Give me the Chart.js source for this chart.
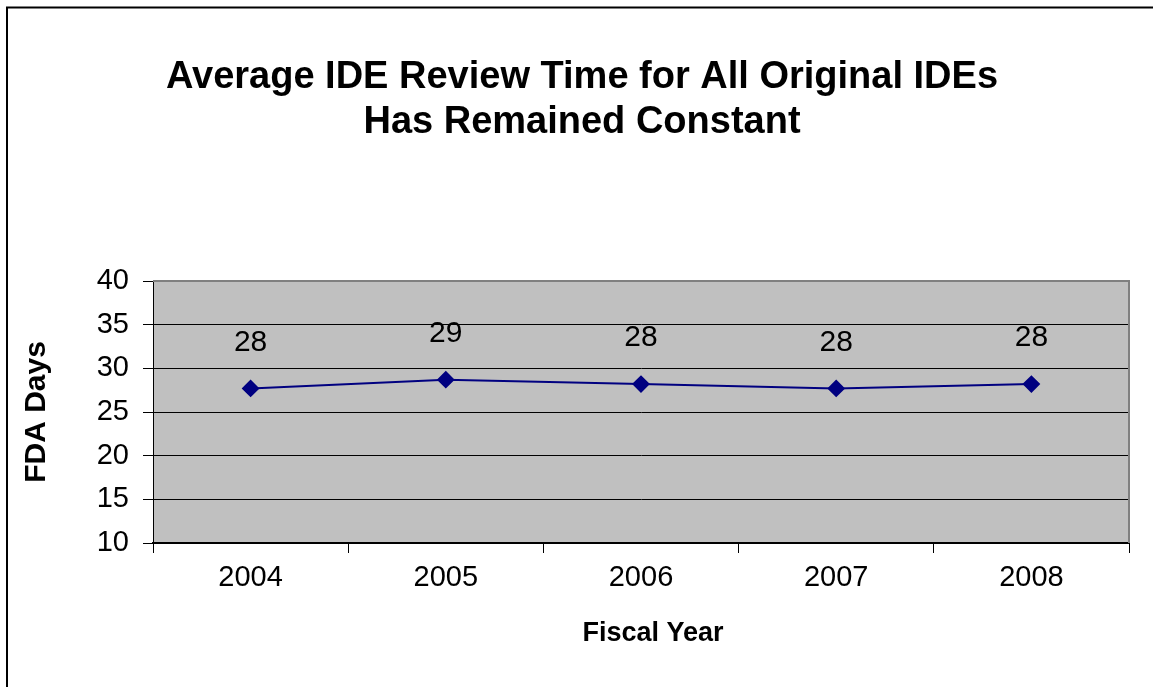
<!DOCTYPE html>
<html>
<head>
<meta charset="utf-8">
<script src="https://cdn.jsdelivr.net/npm/chart.js@4.4.0/dist/chart.umd.min.js"></script>
<style>
  html, body { margin: 0; padding: 0; background: #ffffff; }
  #wrap { width: 1153px; height: 687px; position: relative; }
</style>
</head>
<body>
<div id="wrap"><canvas id="c" width="1153" height="687"></canvas></div>
<script>
const categories = ['2004', '2005', '2006', '2007', '2008'];
const reviewDays = [27.7, 28.7, 28.2, 27.7, 28.2];
const dataLabels = ['28', '29', '28', '28', '28'];
const titleLines = ['Average IDE Review Time for All Original IDEs', 'Has Remained Constant'];
const yTitle = 'FDA Days';
const xTitle = 'Fiscal Year';

const FONT = '"Liberation Sans", Arial, sans-serif';

const frame = {
  id: 'frame',
  beforeDraw(chart) {
    const { ctx, chartArea: a } = chart;
    ctx.save();
    ctx.fillStyle = '#C0C0C0';
    ctx.fillRect(a.left, a.top, a.right - a.left, a.bottom - a.top);
    ctx.restore();
  },
  afterDatasetsDraw(chart) {
    const { ctx, chartArea: a } = chart;
    ctx.save();
    ctx.strokeStyle = '#808080';
    ctx.lineWidth = 2;
    ctx.beginPath();
    ctx.moveTo(a.left, a.top);
    ctx.lineTo(a.right, a.top);
    ctx.lineTo(a.right, a.bottom);
    ctx.stroke();
    // outer frame
    ctx.strokeStyle = '#000000';
    ctx.lineWidth = 2;
    ctx.beginPath();
    ctx.moveTo(1153, 7.5);
    ctx.lineTo(7, 7.5);
    ctx.lineTo(7, 687);
    ctx.stroke();
    // chart title
    ctx.fillStyle = '#000000';
    ctx.font = 'bold 38px ' + FONT;
    ctx.textAlign = 'center';
    ctx.textBaseline = 'alphabetic';
    ctx.fillText(titleLines[0], 582, 88);
    ctx.fillText(titleLines[1], 582, 133);
    // x axis title
    ctx.font = 'bold 27px ' + FONT;
    ctx.textBaseline = 'middle';
    ctx.fillText(xTitle, 653, 634);
    ctx.restore();
  }
};

const labelsPlugin = {
  id: 'valueLabels',
  afterDatasetsDraw(chart) {
    const { ctx } = chart;
    const meta = chart.getDatasetMeta(0);
    ctx.save();
    ctx.fillStyle = '#000000';
    ctx.font = '30px ' + FONT;
    ctx.textAlign = 'center';
    ctx.textBaseline = 'middle';
    meta.data.forEach((pt, i) => {
      ctx.fillText(dataLabels[i], pt.x, pt.y - 46);
    });
    ctx.restore();
  }
};

new Chart(document.getElementById('c'), {
  type: 'line',
  data: {
    labels: categories,
    datasets: [{
      data: reviewDays,
      borderColor: '#000080',
      backgroundColor: '#000080',
      borderWidth: 2,
      pointStyle: 'rectRot',
      pointRadius: 7.5,
      pointHoverRadius: 7.5,
      pointBackgroundColor: '#000080',
      pointBorderColor: '#000080',
      tension: 0,
      fill: false
    }]
  },
  options: {
    responsive: false,
    animation: false,
    devicePixelRatio: 1,
    layout: { padding: { left: 0, right: 24, top: 281, bottom: 0 } },
    plugins: {
      legend: { display: false },
      tooltip: { enabled: false },
      title: { display: false }
    },
    scales: {
      x: {
        type: 'category',
        offset: true,
        grid: {
          offset: true,
          drawOnChartArea: false,
          drawTicks: true,
          tickLength: 10,
          color: '#000000',
          lineWidth: 1
        },
        border: { display: true, color: '#000000', width: 2 },
        ticks: {
          color: '#000000',
          font: { family: FONT, size: 29 },
          padding: 8,
          maxRotation: 0
        },
        title: { display: false },
        afterFit(scale) { scale.height = 144; }
      },
      y: {
        min: 10,
        max: 40,
        ticks: {
          stepSize: 5,
          color: '#000000',
          font: { family: FONT, size: 29 },
          padding: 14
        },
        grid: {
          color: (c) => (c.tick && c.tick.value === 40 ? '#808080' : '#000000'),
          lineWidth: 1,
          drawTicks: true,
          tickLength: 10,
          tickColor: '#000000'
        },
        border: { display: true, color: '#000000', width: 1 },
        title: {
          display: true,
          text: yTitle,
          color: '#000000',
          font: { family: FONT, size: 30, weight: 'bold' },
          padding: { top: 19, bottom: 10 }
        },
        afterFit(scale) { scale.width = 153; }
      }
    }
  },
  plugins: [frame, labelsPlugin]
});
</script>
</body>
</html>
